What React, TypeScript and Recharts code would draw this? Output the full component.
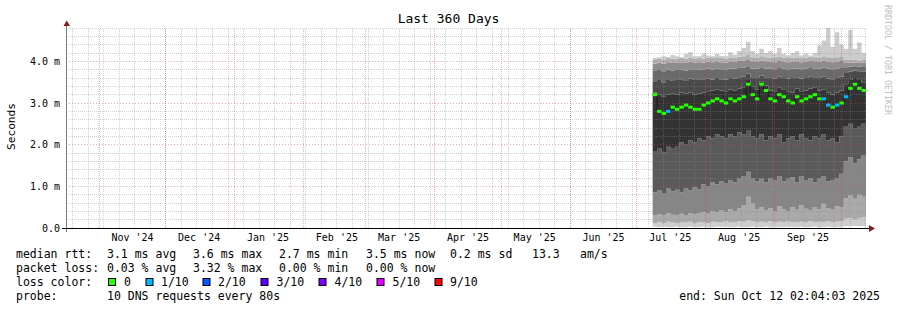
import React from 'react';
import { ComposedChart, Area, Line, XAxis, YAxis, ReferenceLine } from 'recharts';

const MONO = '"DejaVu Sans Mono", monospace';

// days since start of the 360-day window (Oct 17 2024 02:04)
const sampleDays = [264,266,268,270,272,274,276,278,280,282,284,286,288,290,292,294,296,298,300,302,304,306,308,310,312,314,316,318,320,322,324,326,328,330,332,334,336,338,340,342,344,346,348,350,352,354,356,358,360];

// smoke boundaries (ms), sorted ping ranks, bottom to top
const q0 = [0.03,0.02,0.03,0.02,0.02,0.03,0.02,0.02,0.03,0.02,0.02,0.03,0.02,0.02,0.03,0.02,0.03,0.02,0.02,0.03,0.02,0.02,0.03,0.02,0.02,0.03,0.02,0.03,0.02,0.02,0.03,0.02,0.02,0.03,0.02,0.02,0.03,0.02,0.02,0.03,0.02,0.02,0.03,0.04,0.04,0.05,0.04,0.05,0.04];
const q1 = [0.12,0.14,0.12,0.15,0.13,0.12,0.14,0.13,0.15,0.12,0.14,0.13,0.12,0.15,0.14,0.13,0.16,0.14,0.13,0.17,0.15,0.18,0.16,0.14,0.15,0.13,0.16,0.14,0.15,0.13,0.16,0.14,0.13,0.15,0.14,0.16,0.13,0.15,0.14,0.16,0.13,0.15,0.17,0.22,0.24,0.2,0.23,0.25,0.22];
const q2 = [0.3,0.33,0.3,0.35,0.32,0.3,0.34,0.31,0.36,0.33,0.35,0.38,0.34,0.4,0.37,0.42,0.38,0.45,0.4,0.48,0.55,0.75,0.6,0.45,0.5,0.42,0.48,0.4,0.52,0.45,0.4,0.5,0.44,0.55,0.46,0.42,0.5,0.45,0.58,0.48,0.44,0.52,0.5,0.72,0.78,0.7,0.8,0.75,0.82];
const q3 = [0.85,0.9,0.82,0.95,0.88,0.92,0.86,0.95,0.9,0.98,0.93,1.05,1.0,1.1,1.05,1.12,1.08,1.15,1.1,1.2,1.25,1.35,1.2,1.12,1.18,1.1,1.2,1.15,1.25,1.12,1.18,1.22,1.1,1.25,1.15,1.2,1.1,1.18,1.25,1.12,1.15,1.2,1.3,1.6,1.7,1.55,1.65,1.75,1.6];
const q4 = [1.85,1.9,1.82,1.95,1.9,1.95,2.05,2.0,2.1,2.05,2.15,2.1,2.2,2.15,2.25,2.2,2.15,2.25,2.2,2.3,2.25,2.35,2.2,2.15,2.25,2.1,2.2,2.15,2.25,2.05,2.15,2.2,2.1,2.25,2.15,2.1,2.2,2.15,2.25,2.1,2.15,2.05,2.2,2.45,2.5,2.4,2.45,2.5,2.45];
const q5 = [3.25,3.2,3.15,3.2,3.22,3.2,3.25,3.22,3.25,3.2,3.22,3.25,3.28,3.3,3.32,3.3,3.28,3.32,3.3,3.35,3.38,3.55,3.4,3.32,3.52,3.42,3.3,3.28,3.38,3.33,3.28,3.25,3.35,3.28,3.3,3.35,3.38,3.3,3.32,3.25,3.2,3.25,3.3,3.45,3.55,3.6,3.55,3.5,3.55];
const q6 = [3.52,3.55,3.5,3.55,3.53,3.55,3.57,3.53,3.58,3.55,3.57,3.55,3.58,3.56,3.6,3.57,3.56,3.6,3.58,3.62,3.63,3.7,3.62,3.6,3.66,3.62,3.6,3.58,3.63,3.6,3.58,3.6,3.62,3.59,3.6,3.63,3.62,3.6,3.63,3.58,3.57,3.6,3.63,3.72,3.75,3.78,3.76,3.75,3.78];
const q7 = [3.77,3.79,3.76,3.8,3.78,3.79,3.8,3.78,3.81,3.79,3.8,3.79,3.82,3.8,3.83,3.81,3.8,3.83,3.82,3.84,3.85,3.88,3.83,3.82,3.86,3.83,3.82,3.81,3.84,3.82,3.81,3.82,3.83,3.81,3.82,3.84,3.83,3.82,3.85,3.82,3.81,3.82,3.84,3.86,3.87,3.88,3.87,3.88,3.88];
const q8 = [3.95,3.97,3.94,3.98,3.96,3.97,3.98,3.96,3.99,3.97,3.98,3.97,3.99,3.98,4.0,3.98,3.97,4.0,3.99,4.01,4.02,4.05,4.0,3.99,4.02,4.0,3.99,3.98,4.01,3.99,3.98,3.99,4.0,3.98,3.99,4.01,4.0,3.99,4.02,3.99,3.98,3.99,4.01,3.96,3.97,3.97,3.96,3.97,3.97];
const q9 = [4.05,4.07,4.04,4.08,4.06,4.07,4.08,4.06,4.1,4.07,4.08,4.07,4.09,4.08,4.1,4.08,4.07,4.1,4.09,4.11,4.12,4.15,4.1,4.09,4.12,4.1,4.09,4.08,4.11,4.09,4.08,4.09,4.1,4.08,4.09,4.11,4.1,4.09,4.12,4.1,4.08,4.1,4.12,4.03,4.04,4.03,4.02,4.03,4.03];
const q10 = [4.08,4.1,4.12,4.1,4.15,4.12,4.1,4.18,4.22,4.12,4.12,4.18,4.14,4.12,4.18,4.13,4.12,4.22,4.16,4.25,4.32,4.47,4.25,4.18,4.3,4.2,4.24,4.18,4.32,4.18,4.14,4.2,4.24,4.14,4.18,4.14,4.2,4.38,4.5,4.8,4.35,4.7,4.4,4.3,4.75,4.3,4.45,4.2,4.85];

const medianMs = [3.2,2.8,2.75,2.8,2.9,2.85,2.9,2.95,2.9,2.85,2.85,2.95,3.0,3.05,3.1,3.05,3.0,3.1,3.05,3.1,3.15,3.45,3.2,3.1,3.45,3.3,3.1,3.05,3.2,3.15,3.05,3.0,3.15,3.05,3.1,3.15,3.2,3.1,3.1,2.95,2.9,2.95,3.0,3.15,3.35,3.45,3.35,3.3,3.4];
const lossTenths = [0,0,0,1,0,0,0,0,0,0,0,0,0,0,0,0,0,0,0,0,0,0,0,0,0,0,0,0,0,0,0,0,0,0,0,0,0,0,1,1,0,1,0,1,0,0,0,0,0];

const boundaries = [q0, q1, q2, q3, q4, q5, q6, q7, q8, q9, q10];
const bandColors = ['#cdcdcd','#a9a9a9','#868686','#5a5a5a','#333333','#4a4a4a','#6a6a6a','#8c8c8c','#b0b0b0','#cccccc'];

const lossLegend = [
  { label: '0', color: '#26ff00' },
  { label: '1/10', color: '#00b8ff' },
  { label: '2/10', color: '#0059ff' },
  { label: '3/10', color: '#5e00ff' },
  { label: '4/10', color: '#7e00ff' },
  { label: '5/10', color: '#dd00ff' },
  { label: '9/10', color: '#ff0000' },
];
const lossColorByTenths: Record<number, string> = { 0: '#26ff00', 1: '#00b8ff', 2: '#0059ff', 3: '#5e00ff', 4: '#7e00ff', 5: '#dd00ff', 9: '#ff0000' };

const monthStartDays = [14.91, 44.91, 75.91, 106.91, 134.91, 165.91, 195.91, 226.91, 256.91, 287.91, 318.91, 348.91];
const monthLabels = ["Nov '24", "Dec '24", "Jan '25", "Feb '25", "Mar '25", "Apr '25", "May '25", "Jun '25", "Jul '25", "Aug '25", "Sep '25"];
const monthLabelDays = monthLabels.map((_, i) => monthStartDays[i] + 15);
const weekDays = Array.from({ length: 52 }, (_, i) => 2.91 + 7 * i);
const yTicks = [0, 1, 2, 3, 4];
const yMinor = Array.from({ length: 24 }, (_, i) => Math.round((i + 1) * 2) / 10).filter(v => Math.abs(v - Math.round(v)) > 0.01);

const rows = sampleDays.map((day, i) => {
  const r: any = { day, median: medianMs[i], loss: lossTenths[i] };
  boundaries.forEach((arr, b) => { r['q' + b] = arr[i]; });
  return r;
});

const labelFor = (d: number) => {
  const i = monthLabelDays.findIndex(v => Math.abs(v - d) < 0.01);
  return i >= 0 ? monthLabels[i] : '';
};

const MedianDot = (props: any) => {
  const { cx, cy, index, payload } = props;
  if (cx == null || cy == null) return <g key={`md${index}`} />;
  return <rect key={`md${index}`} x={cx} y={cy - 1.5} width={4.5} height={3} fill={lossColorByTenths[payload.loss] || '#26ff00'} />;
};

const legendRow1 = [
  { x: 16, t: 'median rtt:' }, { x: 107, t: '3.1 ms avg' }, { x: 193, t: '3.6 ms max' }, { x: 279, t: '2.7 ms min' },
  { x: 366, t: '3.5 ms now' }, { x: 450, t: '0.2 ms sd' }, { x: 532, t: '13.3' }, { x: 580, t: 'am/s' },
];
const legendRow2 = [
  { x: 16, t: 'packet loss:' }, { x: 107, t: '0.03 % avg' }, { x: 193, t: '3.32 % max' }, { x: 279, t: '0.00 % min' }, { x: 366, t: '0.00 % now' },
];
const lossSquareX = [108.5, 146, 203, 261, 319, 377, 435];
const lossTextX = [124, 161, 218, 276.5, 334.5, 392.5, 450];

export default function App() {
  const txt = { fontFamily: MONO, fontSize: 11.5, fill: '#000' } as any;
  const tickStyle = { fontSize: 10, fontFamily: MONO, fill: '#000', stroke: 'none' };
  return (
    <div style={{ position: 'absolute', left: 0, top: 0, width: 897, height: 310, background: '#fff' }}>
      <ComposedChart width={897} height={310} data={rows} margin={{ top: 28, right: 31, bottom: 62, left: 0 }}>
        <XAxis type="number" dataKey="day" domain={[0, 360]} ticks={monthLabelDays} interval={0}
          tickFormatter={labelFor} height={20} tickSize={0} tickMargin={6} axisLine={false} tickLine={false}
          tick={tickStyle} allowDataOverflow />
        <YAxis type="number" domain={[0, 4.8]} ticks={yTicks} interval={0} width={66} tickSize={0} tickMargin={6}
          tickFormatter={(v: number) => (v === 0 ? '0.0' : `${v.toFixed(1)} m`)} axisLine={false} tickLine={false}
          tick={tickStyle} allowDataOverflow />
        {bandColors.map((c, b) => (
          <Area key={`band${b}`} type="stepAfter" dataKey={(r: any) => [r['q' + b], r['q' + (b + 1)]]}
            fill={c} fillOpacity={1} stroke="none" isAnimationActive={false} dot={false} activeDot={false} />
        ))}
        {weekDays.map(d => (
          <ReferenceLine key={`w${d}`} x={d} stroke="#8c8c8c" strokeOpacity={0.4} strokeDasharray="1 1" shapeRendering="crispEdges" />
        ))}
        {yMinor.map(v => (
          <ReferenceLine key={`ym${v}`} y={v} stroke="#8c8c8c" strokeOpacity={0.4} strokeDasharray="1 1" shapeRendering="crispEdges" />
        ))}
        {monthStartDays.map(d => (
          <ReferenceLine key={`m${d}`} x={d} stroke="#e04040" strokeOpacity={0.42} strokeDasharray="1 1" shapeRendering="crispEdges" />
        ))}
        {[1, 2, 3, 4].map(v => (
          <ReferenceLine key={`yM${v}`} y={v} stroke="#e04040" strokeOpacity={0.45} strokeDasharray="1 2" shapeRendering="crispEdges" />
        ))}
        <Line type="stepAfter" dataKey="median" stroke="#1a1a1a" strokeWidth={1} dot={MedianDot} activeDot={false} isAnimationActive={false} />
      </ComposedChart>
      <svg width={897} height={310} style={{ position: 'absolute', left: 0, top: 0, pointerEvents: 'none' }}>
        <text x={448.5} y={23} textAnchor="middle" style={{ fontFamily: MONO, fontSize: 13, fill: '#000' }}>Last 360 Days</text>
        <text x={15} y={126.5} textAnchor="middle" transform="rotate(-90 15 126.5)" style={{ fontFamily: MONO, fontSize: 11.2, fill: '#000' }}>Seconds</text>
        <text x={885} y={5} transform="rotate(90 885 5)" style={{ fontFamily: MONO, fontSize: 8.3, fill: '#c0c0c0' }}>RRDTOOL / TOBI OETIKER</text>
        <line x1={66.5} y1={25} x2={66.5} y2={232} stroke="#7a7a7a" strokeWidth={1} />
        <line x1={62} y1={228.5} x2={869} y2={228.5} stroke="#000" strokeWidth={1} />
        <polygon points="63.5,26 70,26 66.75,20.5" fill="#8b1a1a" />
        <polygon points="869,225 869,232 875,228.5" fill="#8b1a1a" />
        {legendRow1.map(s => <text key={`r1${s.x}`} x={s.x} y={258} style={txt}>{s.t}</text>)}
        {legendRow2.map(s => <text key={`r2${s.x}`} x={s.x} y={272} style={txt}>{s.t}</text>)}
        <text x={16} y={286} style={txt}>loss color:</text>
        {lossLegend.map((l, i) => (
          <g key={`ll${i}`}>
            <rect x={lossSquareX[i]} y={278.5} width={7} height={7} fill={l.color} stroke="#000" strokeWidth={1} />
            <text x={lossTextX[i]} y={286} style={txt}>{l.label}</text>
          </g>
        ))}
        <text x={16} y={300} style={txt}>probe:</text>
        <text x={107} y={300} style={txt}>10 DNS requests every 80s</text>
        <text x={880} y={300} textAnchor="end" style={txt}>end: Sun Oct 12 02:04:03 2025</text>
      </svg>
    </div>
  );
}
